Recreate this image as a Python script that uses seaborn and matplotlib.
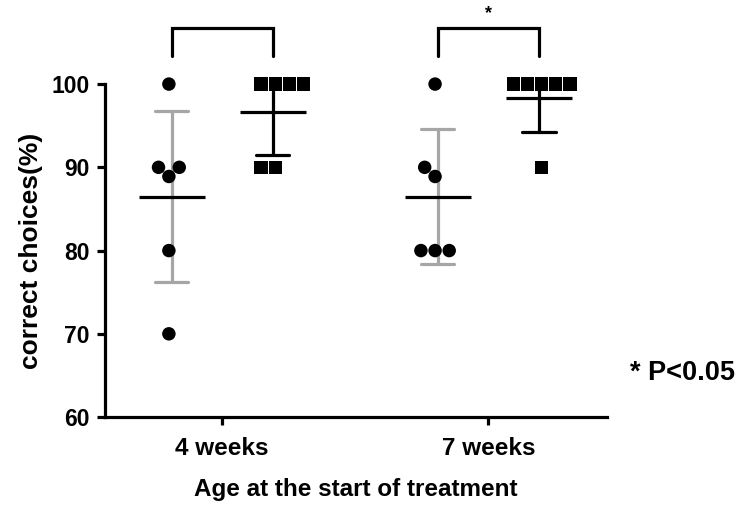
import pandas as pd
import matplotlib.pyplot as plt
import seaborn as sns

# values (% correct choices per animal)
ages = ['4 weeks', '7 weeks']
groups = ['Group 1', 'Group 2']
circles_4w = [100, 90, 90, 88.9, 80, 70]
squares_4w = [100, 100, 100, 100, 90, 90]
circles_7w = [100, 90, 88.9, 80, 80, 80]
squares_7w = [100, 100, 100, 100, 100, 90]

rows = []
for age, vals, grp in [(ages[0], circles_4w, groups[0]), (ages[0], squares_4w, groups[1]),
                       (ages[1], circles_7w, groups[0]), (ages[1], squares_7w, groups[1])]:
    for v in vals:
        rows.append({'age': age, 'group': grp, 'pct': v})
df = pd.DataFrame(rows)

sns.set_style('ticks')
plt.rcParams['font.family'] = ['Liberation Sans', 'DejaVu Sans']
plt.rcParams['font.weight'] = 'bold'
plt.rcParams['text.color'] = 'black'
plt.rcParams['axes.labelcolor'] = 'black'
plt.rcParams['xtick.color'] = 'black'
plt.rcParams['ytick.color'] = 'black'

fig = plt.figure(figsize=(7.5, 5.08), dpi=100)
ax = fig.add_axes([0.14, 0.179, 0.669, 0.6555])

dodge = 0.38
lw = 2.3

# mean +/- SD error bars
sns.pointplot(data=df, x='age', y='pct', hue='group', hue_order=groups, order=ages,
              palette=['#a6a6a6', 'black'], errorbar='sd', capsize=0.125,
              dodge=dodge, linestyle='none', marker='none',
              err_kws={'linewidth': lw}, legend=False, ax=ax)

# individual animals
sns.swarmplot(data=df[df['group'] == groups[0]], x='age', y='pct', hue='group',
              hue_order=groups, order=ages, dodge=True, palette=['black', 'black'],
              size=9.7, marker='o', linewidth=0, clip_on=False, legend=False,
              zorder=3, ax=ax)
sns.swarmplot(data=df[df['group'] == groups[1]], x='age', y='pct', hue='group',
              hue_order=groups, order=ages, dodge=True, palette=['black', 'black'],
              size=9.7, marker='s', linewidth=0, clip_on=False, legend=False,
              zorder=3, ax=ax)

# mean lines
sns.pointplot(data=df, x='age', y='pct', hue='group', hue_order=groups, order=ages,
              palette=['black', 'black'], errorbar=None, dodge=dodge,
              linestyle='none', marker='_', markersize=48, markeredgewidth=lw,
              legend=False, ax=ax)
for line in ax.lines[-4:]:
    line.set_zorder(4)

ax.set_ylim(60, 100)
ax.set_yticks([60, 70, 80, 90, 100])
ax.set_xlim(-0.44, 1.445)
sns.despine(ax=ax)
for s in ['left', 'bottom']:
    ax.spines[s].set_linewidth(lw)
    ax.spines[s].set_color('black')
ax.tick_params(axis='both', length=6, width=lw, color='black', labelcolor='black')
ax.tick_params(axis='y', labelsize=16.5, pad=5)
ax.tick_params(axis='x', labelsize=17.5, pad=8)
for lab in ax.get_xticklabels() + ax.get_yticklabels():
    lab.set_fontweight('bold')

ax.set_ylabel('correct choices(%)', fontsize=19, fontweight='bold', labelpad=6)
ax.set_xlabel('Age at the start of treatment', fontsize=17.5, fontweight='bold', labelpad=13)

# significance brackets
half = dodge / 2
for i, age in enumerate(ages):
    ax.plot([i - half, i - half, i + half, i + half], [103.4, 106.7, 106.7, 103.4],
            color='black', lw=lw, clip_on=False, solid_joinstyle='miter')
ax.text(1, 107.4, '*', ha='center', va='bottom', fontsize=13, fontweight='bold')

fig.text(0.84, 0.266, '* P<0.05', ha='left', va='center', fontsize=19.5, fontweight='bold')

fig.savefig('out.png', dpi=100)
